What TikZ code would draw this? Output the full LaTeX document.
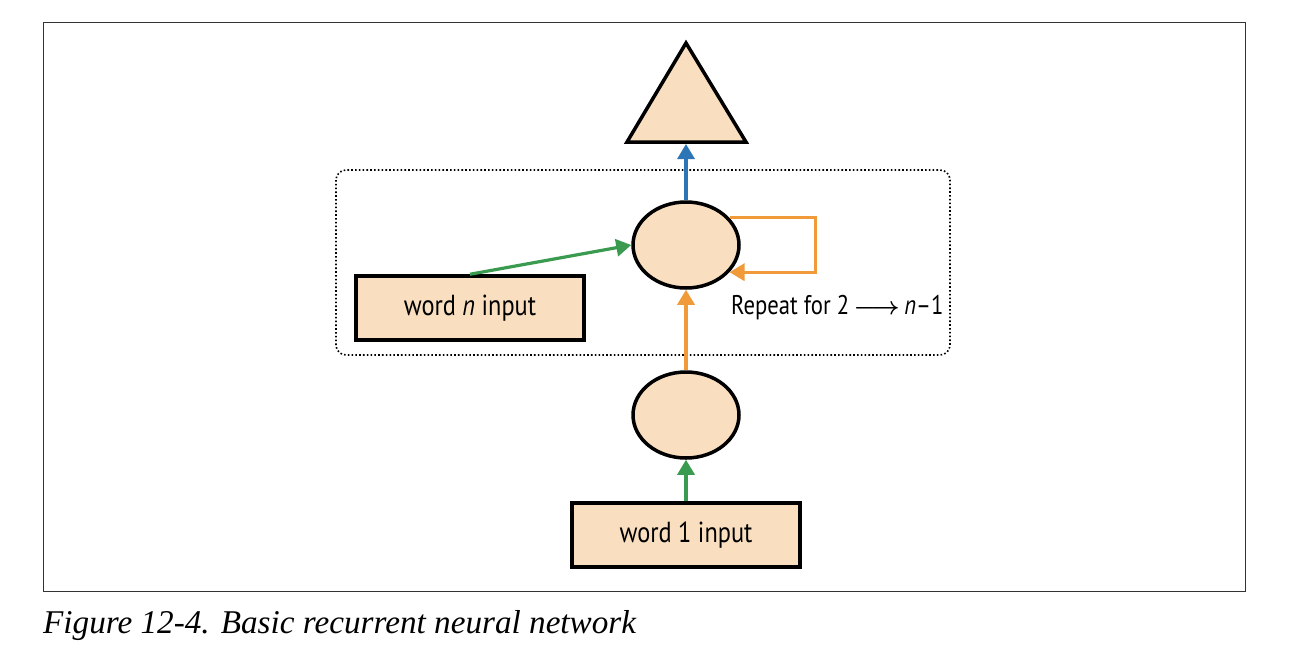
\documentclass[tikz,border=0pt]{standalone}
\usepackage{fontspec}
\setmainfont{Liberation Serif}
\newfontfamily\labelfont[FakeStretch=0.84]{PT Sans}
\usetikzlibrary{shapes.geometric,arrows.meta}
\definecolor{peach}{HTML}{F9DFC0}
\definecolor{cblue}{HTML}{2E75B6}
\definecolor{cgreen}{HTML}{3A9A50}
\definecolor{corange}{HTML}{F09A3A}
\begin{document}
\begin{tikzpicture}[x=1pt,y=-1pt,
  shapeline/.style={draw=black,line width=3.5pt,fill=peach},
  cell/.style={shapeline,ellipse,minimum width=106pt,minimum height=86pt,inner sep=0pt},
  inbox/.style={shapeline,rectangle,minimum width=228pt,minimum height=64pt,inner sep=0pt,font=\labelfont\fontsize{29}{33}\selectfont},
  conn/.style={line width=3.2pt,-{Triangle[length=15pt,width=17pt]}},
  lbl/.style={font=\labelfont\fontsize{27}{31}\selectfont,inner sep=0pt}]
\useasboundingbox (0,0) rectangle (1300,670);
% outer frame
\draw[line width=1pt,black!80] (43,22) rectangle (1245,591);
% dotted group
\draw[dash pattern=on 1.6pt off 2.2pt,line width=1.6pt,rounded corners=10pt] (336,170) rectangle (950,355);
% triangle output
\draw[shapeline,line join=miter] (686,43) -- (746,142) -- (627,142) -- cycle;
\coordinate (tri) at (686,144);
% cells
\node[cell] (e2) at (686,245) {};
\node[cell] (e1) at (686,415) {};
% inputs
\node[inbox] (wn) at (470,308) {word \textit{n} input};
\node[inbox] (w1) at (686,535) {word 1 input};
% label
\node[lbl,anchor=west] (rep) at (731,308) {Repeat for 2\,{\boldmath$\longrightarrow$}\,\textit{n}–1};
% connectors
\draw[conn,cblue] (e2.north) -- (tri);
\draw[conn,corange] (e1.north) -- (e2.south);
\draw[conn,cgreen] (w1.north) -- (e1.south);
\draw[conn,cgreen] (wn.north) -- (e2.west);
\draw[conn,corange] (e2.32) -- ++(86,0) |- (e2.-32);
% caption
\node[anchor=base west,inner sep=0pt,font=\itshape\fontsize{33.2}{37}\selectfont] (cap) at (43,633) {Figure 12-4. Basic recurrent neural network};
\end{tikzpicture}
\end{document}
